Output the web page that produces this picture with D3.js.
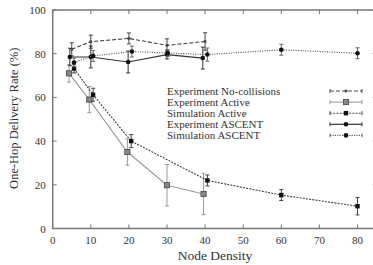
<!DOCTYPE html>
<html>
<head>
<meta charset="utf-8">
<script src="https://cdn.jsdelivr.net/npm/d3@7"></script>
<style>
  body { margin: 0; background: #fff; }
  text { font-family: "Liberation Serif", "DejaVu Serif", serif; fill: #333; }
</style>
</head>
<body>
<div id="app"></div>
<script>
// Data
const xTicks = [0, 10, 20, 30, 40, 50, 60, 70, 80];
const yTicks = [0, 20, 40, 60, 80, 100];

const noCollX = [5, 10, 20, 30, 40];
const noCollY = [82, 85.5, 87, 83.8, 85.6];
const noCollE = [3, 3, 2.5, 3, 4];

const expActiveX = [4.3, 9.6, 19.6, 30, 39.6];
const expActiveY = [71, 59, 35, 19.8, 15.8];
const expActiveE = [4, 6, 6, 9.5, 9.5];

const simActiveX = [5.6, 10.6, 20.6, 40.6, 60, 80];
const simActiveY = [73.2, 61.2, 40, 22, 15.3, 10.2];
const simActiveE = [2, 3, 3, 2.5, 2.5, 4];

const expAscentX = [4.5, 10, 19.8, 30, 39.4];
const expAscentY = [78.5, 78.5, 76.2, 79.6, 78];
const expAscentE = [4, 5, 5, 2, 5];

const simAscentX = [5.6, 10.6, 20.8, 30.2, 40.6, 60, 80];
const simAscentY = [76, 79, 81, 80.3, 79.6, 81.8, 80.2];
const simAscentE = [2, 2.5, 2.5, 1.5, 3, 2.5, 2.5];

const seriesNames = ['Experiment No-collisions', 'Experiment Active', 'Simulation Active', 'Experiment ASCENT', 'Simulation ASCENT'];

const width = 373, height = 265;
const margin = { left: 52.7, top: 10, bottom: 36.5 };

const x = d3.scaleLinear().domain([0, 85]).range([margin.left, margin.left + 85 * 3.81]);
const y = d3.scaleLinear().domain([0, 100]).range([height - margin.bottom, margin.top]);

const svg = d3.select('#app').append('svg')
    .attr('width', width)
    .attr('height', height);

// series styles
const styles = [
    { color: '#444', dash: '4,2', marker: 'dot', width: 1.1 },
    { color: '#999', dash: null, marker: 'square', width: 1.1 },
    { color: '#444', dash: '2,1.2', marker: 'fsquare', width: 1.1 },
    { color: '#333', dash: null, marker: 'circle', width: 1.2 },
    { color: '#666', dash: '1.2,1.2', marker: 'circle', width: 1.1 }
];

const series = [
    { xs: noCollX, ys: noCollY, es: noCollE },
    { xs: expActiveX, ys: expActiveY, es: expActiveE },
    { xs: simActiveX, ys: simActiveY, es: simActiveE },
    { xs: expAscentX, ys: expAscentY, es: expAscentE },
    { xs: simAscentX, ys: simAscentY, es: simAscentE }
];

const axisColor = '#777';

// ticks (mirrored, inward)
const plot = svg.append('g');
const x0 = x(0), x1 = x(85), yb = y(0), yt = y(100);
const tickLen = 4;
xTicks.forEach(t => {
    plot.append('line').attr('x1', x(t)).attr('x2', x(t)).attr('y1', yb).attr('y2', yb - tickLen)
        .attr('stroke', axisColor).attr('stroke-width', 1);
    plot.append('line').attr('x1', x(t)).attr('x2', x(t)).attr('y1', yt).attr('y2', yt + tickLen)
        .attr('stroke', axisColor).attr('stroke-width', 1);
    svg.append('text').attr('x', x(t)).attr('y', yb + 15)
        .attr('text-anchor', 'middle').style('font-size', '11px').text(t);
});
yTicks.forEach(t => {
    plot.append('line').attr('x1', x0).attr('x2', x0 + tickLen).attr('y1', y(t)).attr('y2', y(t))
        .attr('stroke', axisColor).attr('stroke-width', 1);
    plot.append('line').attr('x1', x1).attr('x2', x1 - tickLen).attr('y1', y(t)).attr('y2', y(t))
        .attr('stroke', axisColor).attr('stroke-width', 1);
    svg.append('text').attr('x', x0 - 7).attr('y', y(t) + 4)
        .attr('text-anchor', 'end').style('font-size', '11px').text(t);
});

plot.append('rect')
    .attr('x', x0).attr('y', yt).attr('width', x1 - x0).attr('height', yb - yt)
    .attr('fill', 'none').attr('stroke', axisColor).attr('stroke-width', 1.5);

function drawMarker(g, px, py, st) {
    if (st.marker === 'dot') {
        g.append('rect').attr('x', px - 1.3).attr('y', py - 1.3).attr('width', 2.6).attr('height', 2.6).attr('fill', st.color);
    } else if (st.marker === 'square') {
        g.append('rect').attr('x', px - 2.6).attr('y', py - 2.6).attr('width', 5.2).attr('height', 5.2)
            .attr('fill', '#888').attr('stroke', '#444').attr('stroke-width', 0.8);
    } else if (st.marker === 'fsquare') {
        g.append('rect').attr('x', px - 2.2).attr('y', py - 2.2).attr('width', 4.4).attr('height', 4.4).attr('fill', '#111');
    } else {
        g.append('circle').attr('cx', px).attr('cy', py).attr('r', 2.3).attr('fill', '#111');
    }
}

const line = d3.line().x(d => x(d[0])).y(d => y(d[1]));

series.forEach((s, i) => {
    const st = styles[i];
    const g = svg.append('g');
    const pts = s.xs.map((v, j) => [v, s.ys[j]]);
    g.append('path').attr('d', line(pts)).attr('fill', 'none')
        .attr('stroke', st.color).attr('stroke-width', st.width)
        .attr('stroke-dasharray', st.dash);
    pts.forEach((p, j) => {
        const px = x(p[0]), lo = y(p[1] - s.es[j]), hi = y(p[1] + s.es[j]);
        g.append('line').attr('x1', px).attr('x2', px).attr('y1', lo).attr('y2', hi)
            .attr('stroke', st.color).attr('stroke-width', 1);
        [lo, hi].forEach(yy => g.append('line').attr('x1', px - 2).attr('x2', px + 2).attr('y1', yy).attr('y2', yy)
            .attr('stroke', st.color).attr('stroke-width', 1));
        drawMarker(g, px, y(p[1]), st);
    });
});

// legend
const legend = svg.append('g');
seriesNames.forEach((name, i) => {
    const st = styles[i];
    const ly = 91 + i * 11.1;
    legend.append('text').attr('x', 167).attr('y', ly + 3.5)
        .style('font-size', '11px').text(name);
    legend.append('line').attr('x1', 330).attr('x2', 362).attr('y1', ly).attr('y2', ly)
        .attr('stroke', st.color).attr('stroke-width', st.width).attr('stroke-dasharray', st.dash);
    [330, 362].forEach(xx => legend.append('line').attr('x1', xx).attr('x2', xx).attr('y1', ly - 2).attr('y2', ly + 2)
        .attr('stroke', st.color).attr('stroke-width', 1));
    drawMarker(legend, 346, ly, st);
});

// axis titles
svg.append('text').attr('x', 215).attr('y', 260)
    .attr('text-anchor', 'middle').style('font-size', '13.5px').text('Node Density');
svg.append('text')
    .attr('transform', `translate(18, ${(y(0) + y(100)) / 2 - 1}) rotate(-90)`)
    .attr('text-anchor', 'middle').style('font-size', '12.5px').text('One-Hop Delivery Rate (%)');
</script>
</body>
</html>
